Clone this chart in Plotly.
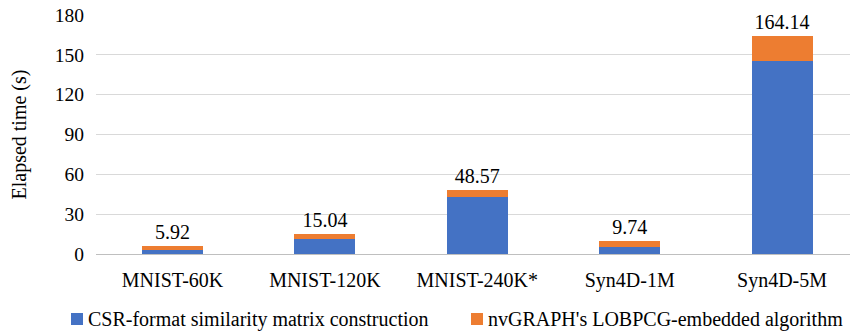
import plotly.graph_objects as go

categories = ["MNIST-60K", "MNIST-120K", "MNIST-240K*", "Syn4D-1M", "Syn4D-5M"]
csr_construction = [2.9, 11.0, 43.3, 5.5, 145.1]
lobpcg = [3.02, 4.04, 5.27, 4.24, 19.04]
totals = [5.92, 15.04, 48.57, 9.74, 164.14]
y_ticks = [0, 30, 60, 90, 120, 150, 180]
series_names = ["CSR-format similarity matrix construction",
                "nvGRAPH's LOBPCG-embedded algorithm"]
series_colors = ["#4472C4", "#ED7D31"]

FONT = "Liberation Serif, Times New Roman, serif"

# figure geometry (page body margin removed via post_script)
W, H = 850, 334
L, R, T, B = 96, 0, 15, 80
PW, PH = W - L - R, H - T - B


def px(x):
    return (x - L) / PW


def py(y):
    return (H - B - y) / PH


fig = go.Figure()
fig.add_trace(go.Bar(
    x=categories, y=csr_construction, name=series_names[0],
    marker=dict(color=series_colors[0], line=dict(width=0)),
))
fig.add_trace(go.Bar(
    x=categories, y=lobpcg, name=series_names[1],
    marker=dict(color=series_colors[1], line=dict(width=0)),
    text=[f"{t:.2f}" for t in totals],
    textposition="outside",
    textfont=dict(family=FONT, size=20, color="#000000"),
    cliponaxis=False,
))

# custom legend (square + text), positions in page pixels
legend_items = [(71, 87), (471, 487)]
shapes, annotations = [], []
for (sq_x, tx_x), name, color in zip(legend_items, series_names, series_colors):
    shapes.append(dict(type="rect", xref="paper", yref="paper",
                       x0=px(sq_x), x1=px(sq_x + 12), y0=py(313), y1=py(325),
                       fillcolor=color, line=dict(width=0)))
    annotations.append(dict(text=name, xref="paper", yref="paper",
                            x=px(tx_x), y=py(319.5), xanchor="left", yanchor="middle",
                            showarrow=False, borderpad=0,
                            font=dict(family=FONT, size=20, color="#000000")))

annotations.append(dict(
    text="Elapsed time (s)", textangle=-90,
    xref="paper", yref="paper", x=px(19), y=0.5,
    xanchor="center", yanchor="middle", showarrow=False,
    font=dict(family=FONT, size=20, color="#000000"),
))

fig.update_layout(
    barmode="stack",
    bargap=0.6,
    width=W, height=H,
    margin=dict(l=L, r=R, t=T, b=B, autoexpand=False),
    paper_bgcolor="white", plot_bgcolor="white",
    font=dict(family=FONT, size=20, color="#000000"),
    showlegend=False,
    hovermode=False,
    xaxis=dict(
        range=[-0.502, 4.446],
        showgrid=False, showline=True, linecolor="#BFBFBF", linewidth=1,
        ticks="", tickfont=dict(family=FONT, size=20), automargin=False,
        ticklabelstandoff=8,
    ),
    yaxis=dict(
        range=[0, 180], tickvals=y_ticks, showgrid=True, gridcolor="#D9D9D9",
        gridwidth=1, zeroline=False, showline=False, ticks="",
        tickfont=dict(family=FONT, size=19.5), automargin=False,
        ticklabelstandoff=11, ticklabeloverflow="allow",
    ),
    shapes=shapes,
    annotations=annotations,
)

fig.write_html(
    "out.html",
    config={"displayModeBar": False, "staticPlot": True},
    post_script="document.body.style.margin='0';document.body.style.overflow='hidden';",
)
